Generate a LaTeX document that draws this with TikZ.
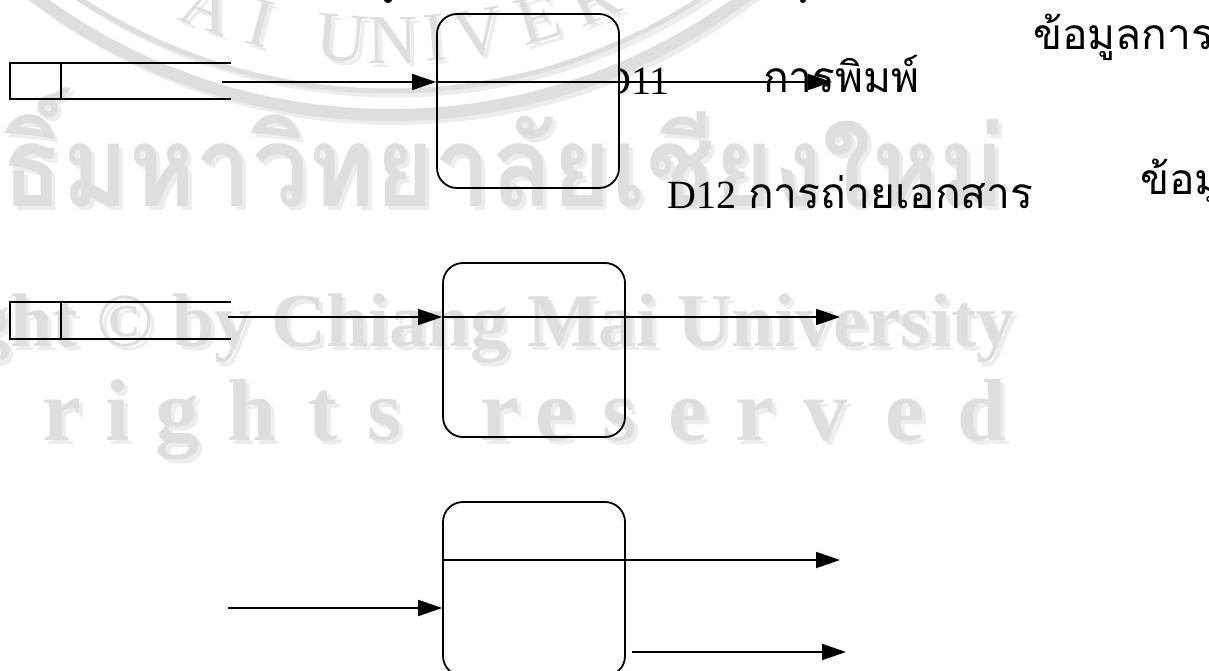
\documentclass[tikz,border=0pt]{standalone}
\usepackage{fontspec}
\setmainfont{Liberation Serif}
\newfontfamily\thaifont[Script=Thai]{Loma}
\usetikzlibrary{arrows.meta}

\definecolor{wmgray}{HTML}{DEDEDE}
\definecolor{wmpale}{HTML}{EDEDED}

% Background watermark: university seal ring, Thai and English lines
\newcommand\watermark[2]{%
  \draw[#1, line width=5pt] (390,-477) circle[radius=568pt];
  \draw[#1, line width=12pt] (390,-477) circle[radius=592pt];
  \foreach \ch/\xx [count=\k] in {A/200,I/255,U/340,N/393,I/437,V/482,E/545,R/603}{
    \pgfmathsetmacro\ang{asin((\xx-390)/540)}
    \pgfmathsetmacro\yy{-477+540*cos(\ang)}
    \node[text=#1, font=\fontsize{70}{72}\selectfont, inner sep=0pt,
          anchor=base, rotate=\ang] (#2logo\k) at (\xx,\yy) {\ch};
  }
  \node[text=#1, font=\thaifont\bfseries\fontsize{112}{120}\selectfont,
        inner sep=0pt, anchor=base east] (#2thai) at (1005,206)
        {\scalebox{0.9}[1]{ลิขสิทธิ์มหาวิทยาลัยเชียงใหม่}};
  \node[text=#1, font=\bfseries\fontsize{76}{80}\selectfont,
        inner sep=0pt, anchor=base east] (#2copy) at (1015,346)
        {Copyright © by Chiang Mai University};
  \foreach \ch/\xx [count=\k] in {r/62,i/118,g/177,h/252,t/323,s/385,
      r/500,e/555,s/620,e/688,r/755,v/825,e/905,d/982}{
    \node[text=#1, font=\bfseries\fontsize{88}{90}\selectfont,
          inner sep=0pt, anchor=base] (#2rr\k) at (\xx,440) {\ch};
  }
}

\begin{document}
\begin{tikzpicture}[x=1pt,y=-1pt,
  proc/.style={draw, line width=1.8pt, rounded corners=20pt,
               minimum width=182pt, minimum height=174pt, inner sep=0pt},
  store/.style={minimum width=221pt, minimum height=36pt, inner sep=0pt},
  edge/.style={line width=1.8pt},
  flow/.style={line width=1.8pt, -{Triangle[length=24pt,width=16pt]}},
  lab/.style={inner sep=0pt, anchor=base west},
  latin/.style={font=\fontsize{40}{46}\selectfont},
  thai/.style={font=\thaifont\fontsize{42.5}{50}\selectfont},
]
\useasboundingbox (0,0) rectangle (1209,671);
\clip (0,0) rectangle (1209,671);

\begin{scope}[shift={(4,4)}]\watermark{wmpale}{s}\end{scope}
\watermark{wmgray}{m}

% labels (set before the shapes so that lines run over them)
\begin{scope}
  \clip (618,40) rectangle (700,120);
  \node[latin, lab] (d11) at (602,95) {D11};
\end{scope}
\node[thai, lab] (t11) at (763,93) {การพิมพ์};
\node[latin, lab] (d12) at (667,208) {D12};
\node[thai, lab] (t12) at (748,208) {การถ่ายเอกสาร};
\node[thai, lab] (r1) at (1033,50) {ข้อมูลการพิมพ์};
\node[thai, lab] (r2) at (1140,194) {ข้อมูลการถ่ายเอกสาร};

% data stores
\node[store] (ds1) at (120.5,81) {};
\node[store] (ds2) at (120.5,320.5) {};
\foreach \s in {ds1,ds2}{
  \draw[edge] (\s.north east) -- (\s.north west) -- (\s.south west) -- (\s.south east);
  \draw[edge] ([xshift=51pt]\s.north west) -- ([xshift=51pt]\s.south west);
}

% processes
\node[proc] (p1) at (528,101) {};
\node[proc] (p2) at (534,350) {};
\node[proc] (p3) at (534,589) {};

% flow rows
\coordinate (in1) at (222,82);
\coordinate (out1) at (832,82);
\coordinate (in2) at (228,317);
\coordinate (out2) at (840,317);
\coordinate (in3) at (228,608);
\coordinate (out3a) at (840,560);
\coordinate (out3b) at (846,652);

\draw[flow] (in1) -- (in1 -| p1.west);
\draw[edge] (in1 -| p1.west) -- (in1 -| p1.east);
\draw[flow] (out1 -| p1.east) -- (out1);

\draw[flow] (in2) -- (in2 -| p2.west);
\draw[edge] (in2 -| p2.west) -- (in2 -| p2.east);
\draw[flow] (out2 -| p2.east) -- (out2);

\draw[flow] (in3) -- (in3 -| p3.west);
\draw[edge] (out3a -| p3.west) -- (out3a -| p3.east);
\draw[flow] (out3a -| p3.east) -- (out3a);
\draw[flow] ([xshift=6pt]out3b -| p3.east) -- (out3b);

% ends of lines from the text above
\fill (388,0) ellipse[x radius=4pt, y radius=3pt];
\fill (803,0) ellipse[x radius=3pt, y radius=3pt];
\end{tikzpicture}
\end{document}
